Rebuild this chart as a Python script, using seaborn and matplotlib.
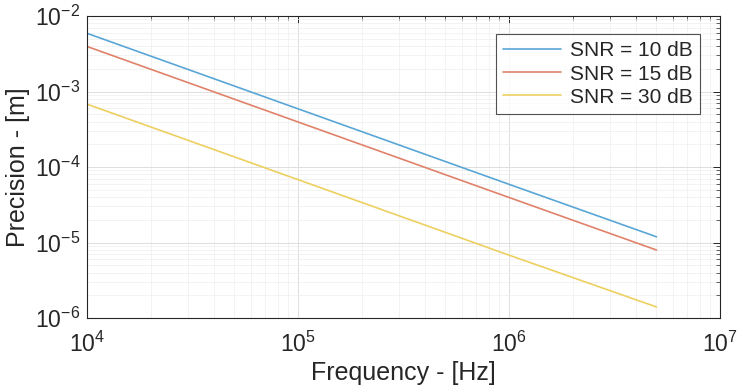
import numpy as np
import pandas as pd
import seaborn as sns
import matplotlib
matplotlib.use("Agg")
import matplotlib.pyplot as plt
from matplotlib.ticker import LogLocator, NullFormatter

freq = [1e4, 1e5, 1e6, 5e6]
snr10 = [5.9e-3, 5.9e-4, 5.9e-5, 1.19e-5]
snr15 = [3.95e-3, 3.95e-4, 3.95e-5, 7.95e-6]
snr30 = [6.8e-4, 6.8e-5, 6.8e-6, 1.4e-6]
labels = ["SNR = 10 dB", "SNR = 15 dB", "SNR = 30 dB"]
colors = ["#5AA6D6", "#E0826A", "#EDD060"]

rows = []
for lab, vals in zip(labels, [snr10, snr15, snr30]):
    for f, v in zip(freq, vals):
        rows.append({"Frequency": f, "Precision": v, "Series": lab})
df = pd.DataFrame(rows)

sns.set_theme(style="white")
plt.rcParams['font.family'] = ['Liberation Sans', 'DejaVu Sans']
plt.rcParams['mathtext.fontset'] = 'custom'
plt.rcParams['mathtext.rm'] = 'Liberation Sans'

fig = plt.figure(figsize=(7.4, 3.92), dpi=100)
ax = fig.add_axes([87/740, 1 - 318/392, (720-87)/740, (318-16)/392])

sns.lineplot(data=df, x="Frequency", y="Precision", hue="Series",
             palette=colors, hue_order=labels, linewidth=1.2, ax=ax)
ax.set_xscale("log")
ax.set_yscale("log")
ax.set_xlim(1e4, 1e7)
ax.set_ylim(1e-6, 1e-2)

ax.xaxis.set_major_locator(LogLocator(base=10, numticks=10))
ax.xaxis.set_minor_locator(LogLocator(base=10, subs=np.arange(2, 10), numticks=20))
ax.yaxis.set_major_locator(LogLocator(base=10, numticks=10))
ax.yaxis.set_minor_locator(LogLocator(base=10, subs=np.arange(2, 10), numticks=20))
ax.xaxis.set_minor_formatter(NullFormatter())
ax.yaxis.set_minor_formatter(NullFormatter())

ax.grid(True, which="major", color="#dedede", linewidth=0.7)
ax.grid(True, which="minor", color="#efefef", linewidth=0.5)
ax.set_axisbelow(True)

ax.tick_params(which="both", direction="in", top=True, right=True,
               colors="#262626", labelcolor="#262626")
ax.tick_params(which="major", length=5, width=0.7, labelsize=16.5)
ax.tick_params(axis="x", which="major", pad=10)
ax.tick_params(axis="y", which="major", pad=5)
ax.tick_params(which="minor", length=3, width=0.5)
for s in ax.spines.values():
    s.set_visible(True)
    s.set_color("#262626")
    s.set_linewidth(0.8)

ax.set_xlabel("Frequency - [Hz]", fontsize=18, color="#262626", labelpad=3)
ax.set_ylabel("Precision - [m]", fontsize=18, color="#262626", labelpad=3)

leg = ax.legend(loc="upper right", bbox_to_anchor=(0.968, 0.94), fontsize=15,
                frameon=True, fancybox=False, edgecolor="#262626",
                handlelength=2.8, borderpad=0.35, labelspacing=0.2,
                handletextpad=0.4, borderaxespad=0.0)
leg.get_frame().set_linewidth(0.8)
for line in leg.get_lines():
    line.set_linewidth(1.2)

fig.savefig("out.png", dpi=100)
